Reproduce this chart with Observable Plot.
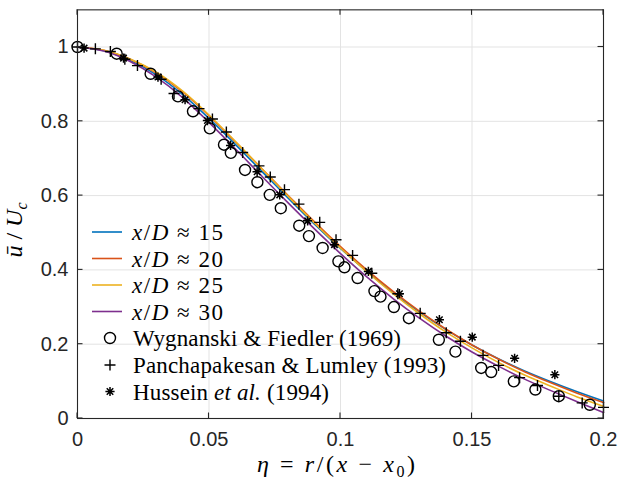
<!DOCTYPE html>
<html><head><meta charset="utf-8">
<script src="https://cdn.jsdelivr.net/npm/d3@7"></script>
<script src="https://cdn.jsdelivr.net/npm/@observablehq/plot@0.6"></script>
<style>body{margin:0;background:#fff}</style>
</head><body><div id="chart"></div>
<script>
// ---- data ----
const eta = [0,0.01,0.02,0.03,0.04,0.05,0.06,0.07,0.08,0.09,0.10,0.11,0.12,0.13,0.14,0.15,0.16,0.17,0.18,0.19,0.20];
const u15 = [1.000,0.990,0.964,0.925,0.872,0.808,0.738,0.666,0.594,0.524,0.458,0.396,0.339,0.287,0.240,0.198,0.161,0.128,0.099,0.072,0.047];
const u20 = [1.000,0.991,0.967,0.930,0.879,0.815,0.745,0.673,0.601,0.530,0.463,0.400,0.342,0.289,0.241,0.198,0.160,0.126,0.096,0.068,0.043];
const u25 = [1.000,0.991,0.968,0.932,0.881,0.817,0.746,0.673,0.599,0.527,0.459,0.395,0.336,0.282,0.233,0.190,0.151,0.117,0.087,0.058,0.033];
const u30 = [1.000,0.989,0.961,0.919,0.864,0.797,0.726,0.653,0.581,0.511,0.444,0.381,0.323,0.270,0.222,0.179,0.141,0.106,0.075,0.045,0.016];
const seriesNames = ["15","20","25","30"];
const seriesColors = ["#0072BD","#D95319","#EDB120","#7E2F8E"];

const wygEta = [0.0,0.0149,0.0278,0.0382,0.0439,0.0503,0.0557,0.0583,0.0637,0.0684,0.0731,0.0773,0.0843,0.0880,0.0932,0.0992,0.1015,0.1065,0.1129,0.1152,0.1203,0.1260,0.1374,0.1437,0.1535,0.1573,0.1659,0.1741,0.1830,0.1948];
const wygU   = [1.0,0.982,0.928,0.867,0.827,0.781,0.737,0.715,0.669,0.636,0.602,0.566,0.519,0.491,0.459,0.423,0.407,0.378,0.343,0.328,0.300,0.270,0.212,0.180,0.136,0.125,0.100,0.078,0.060,0.037];

const panEta = [0.0,0.0068,0.0125,0.0180,0.0228,0.0318,0.0367,0.0462,0.0513,0.0566,0.0628,0.0690,0.0733,0.0787,0.0842,0.0921,0.0983,0.1046,0.1119,0.1218,0.1303,0.1402,0.1456,0.1542,0.1601,0.1681,0.1749,0.1830,0.1919,0.2000];
const panU   = [1.0,0.995,0.988,0.967,0.950,0.913,0.875,0.834,0.806,0.771,0.716,0.680,0.650,0.616,0.577,0.528,0.481,0.439,0.391,0.336,0.283,0.231,0.208,0.170,0.143,0.110,0.089,0.060,0.042,0.030];

const husEta = [0.0025,0.0175,0.0306,0.0409,0.0494,0.0582,0.0683,0.0769,0.0875,0.0977,0.1106,0.1224,0.1376,0.1501,0.1662,0.1815];
const husU   = [0.997,0.970,0.919,0.858,0.802,0.735,0.664,0.602,0.532,0.468,0.396,0.336,0.266,0.219,0.162,0.118];

const datasetNames = ["Wygnanski & Fiedler (1969)","Panchapakesan & Lumley (1993)","Hussein et al. (1994)"];

const xTicks = [0,0.05,0.1,0.15,0.2];
const xTickLabels = ["0","0.05","0.1","0.15","0.2"];
const yTicks = [0,0.2,0.4,0.6,0.8,1];
const yTickLabels = ["0","0.2","0.4","0.6","0.8","1"];

// ---- build ----
const curves = [u15,u20,u25,u30].flatMap((arr,k)=>arr.map((u,i)=>({eta:eta[i],u,s:seriesNames[k]})));
const wyg = wygEta.map((e,i)=>({eta:e,u:wygU[i]}));
const pan = panEta.map((e,i)=>({eta:e,u:panU[i]}));
const hus = husEta.map((e,i)=>({eta:e,u:husU[i]}));

const plusSym = {draw(ctx,size){const r=Math.sqrt(size/Math.PI);ctx.moveTo(-r,0);ctx.lineTo(r,0);ctx.moveTo(0,-r);ctx.lineTo(0,r);}};
const starSym = {draw(ctx,size){const r=Math.sqrt(size/Math.PI);const d=r*Math.SQRT1_2;
  ctx.moveTo(-r,0);ctx.lineTo(r,0);ctx.moveTo(0,-r);ctx.lineTo(0,r);
  ctx.moveTo(-d,-d);ctx.lineTo(d,d);ctx.moveTo(-d,d);ctx.lineTo(d,-d);}};

const W=621,H=479,ML=77,MR=18,MT=9.35,MB=61;
const chart = Plot.plot({
  width:W,height:H,marginLeft:ML,marginRight:MR,marginTop:MT,marginBottom:MB,
  style:{fontFamily:"'Liberation Sans', Arial, sans-serif",fontSize:"20px",background:"#fff"},
  x:{domain:[0,0.2]},
  y:{domain:[0,1.1]},
  color:{domain:seriesNames,range:seriesColors},
  marks:[
    Plot.gridX(xTicks,{stroke:"#e3e3e3",strokeOpacity:1,strokeWidth:1}),
    Plot.gridY(yTicks,{stroke:"#e3e3e3",strokeOpacity:1,strokeWidth:1}),
    Plot.axisX(xTicks,{tickSize:0,tickPadding:13,label:null,fontSize:20,fill:"#262626",tickFormat:d=>xTickLabels[xTicks.indexOf(d)]}),
    Plot.axisY(yTicks,{tickSize:0,tickPadding:9,label:null,fontSize:20,fill:"#262626",tickFormat:d=>yTickLabels[yTicks.indexOf(d)]}),
    Plot.line(curves,{x:"eta",y:"u",z:"s",stroke:"s",strokeWidth:1.6,curve:"monotone-x"}),
    Plot.dot(wyg,{x:"eta",y:"u",r:5.5,stroke:"#000",fill:"none",strokeWidth:1.4}),
    Plot.dot(pan,{x:"eta",y:"u",symbol:plusSym,r:5.5,stroke:"#000",fill:"none",strokeWidth:1.4}),
    Plot.dot(hus,{x:"eta",y:"u",symbol:starSym,r:4.6,stroke:"#000",fill:"none",strokeWidth:1.5}),
    Plot.frame({stroke:"#262626",strokeWidth:1.1})
  ]
});
document.getElementById("chart").appendChild(chart);

const svg = d3.select(chart);
const xs = chart.scale("x"), ys = chart.scale("y");
const x0=xs.apply(0), x1=xs.apply(0.2), y0=ys.apply(0), y1=ys.apply(1.1);
// inward ticks (MATLAB style)
const tg = svg.append("g").attr("stroke","#262626").attr("stroke-width",1.1);
const TL=5.5;
xTicks.forEach(t=>{const x=xs.apply(t);
  tg.append("line").attr("x1",x).attr("x2",x).attr("y1",y0).attr("y2",y0-TL);
  tg.append("line").attr("x1",x).attr("x2",x).attr("y1",y1).attr("y2",y1+TL);});
yTicks.forEach(t=>{const y=ys.apply(t);
  tg.append("line").attr("x1",x0).attr("x2",x0+TL).attr("y1",y).attr("y2",y);
  tg.append("line").attr("x1",x1).attr("x2",x1-TL).attr("y1",y).attr("y2",y);});

// rich text helper
function rich(sel, parts){
  parts.forEach(p=>{
    const t=sel.append("tspan").text(p.t);
    if(p.i) t.attr("font-style","italic");
    if(p.sub){t.attr("dy",p.sub).attr("font-size",p.fs||15);}
    if(p.up){t.attr("dy",-p.up);}
  });
}
const serif="'Liberation Serif','DejaVu Serif',serif";

// legend
const lg = svg.append("g").attr("font-family",serif).attr("font-size",23).attr("fill","#000").attr("text-anchor","start");
const lineRows=[232,258.5,285,311.5];
seriesNames.forEach((n,k)=>{
  lg.append("line").attr("x1",92).attr("x2",122).attr("y1",lineRows[k]).attr("y2",lineRows[k]).attr("stroke",seriesColors[k]).attr("stroke-width",1.6);
  const t=lg.append("text").attr("x",132).attr("y",lineRows[k]).attr("dy","0.35em")
    .attr("textLength",91).attr("lengthAdjust","spacing");
  rich(t,[{t:"x",i:1},{t:"/"},{t:"D",i:1},{t:" \u2248 "+n}]);
});
const mRows=[338,365,391.5];
const mLens=[268,313,196];
lg.append("circle").attr("cx",110).attr("cy",mRows[0]).attr("r",5.5).attr("fill","none").attr("stroke","#000").attr("stroke-width",1.4);
lg.append("path").attr("transform",`translate(110,${mRows[1]})`).attr("d",d3.symbol(plusSym,5.5*5.5*Math.PI)()).attr("stroke","#000").attr("stroke-width",1.4).attr("fill","none");
lg.append("path").attr("transform",`translate(110,${mRows[2]})`).attr("d",d3.symbol(starSym,4.6*4.6*Math.PI)()).attr("stroke","#000").attr("stroke-width",1.5).attr("fill","none");
[[{t:datasetNames[0]}],[{t:datasetNames[1]}],[{t:"Hussein "},{t:"et al.",i:1},{t:" (1994)"}]].forEach((parts,k)=>{
  const t=lg.append("text").attr("x",133).attr("y",mRows[k]).attr("dy","0.35em")
    .attr("textLength",mLens[k]).attr("lengthAdjust","spacing");
  rich(t,parts);
});

// axis labels
const xl = svg.append("text").attr("font-family",serif).attr("font-size",24).attr("text-anchor","start")
  .attr("x",257).attr("y",472).attr("textLength",158).attr("lengthAdjust","spacing");
rich(xl,[{t:"\u03B7",i:1},{t:" = "},{t:"r",i:1},{t:"/("},{t:"x",i:1},{t:" \u2212 "},{t:"x",i:1},{t:"0",sub:5,fs:16},{t:")",up:5}]);
const yl = svg.append("text").attr("font-family",serif).attr("font-size",24).attr("text-anchor","middle")
  .attr("transform",`translate(22,230) rotate(-90)`);
rich(yl,[{t:"u\u0304",i:1},{t:" / "},{t:"U",i:1},{t:"c",i:1,sub:5,fs:16}]);
</script>
</body></html>
